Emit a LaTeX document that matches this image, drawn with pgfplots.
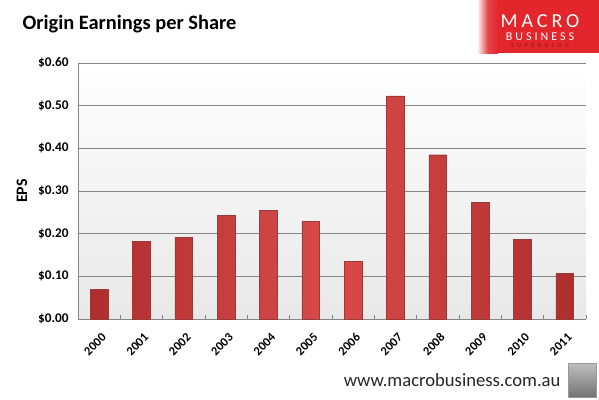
\documentclass[border=0pt]{standalone}
\usepackage{pgfplots}
\pgfplotsset{compat=1.18}
\usepackage{fontspec}
\setmainfont{Carlito}
\definecolor{barmid}{HTML}{DA4A4A}
\definecolor{baredge}{HTML}{AE2E2E}
\definecolor{barline}{HTML}{9A3A3A}
\definecolor{gridc}{HTML}{868686}
\definecolor{logored}{HTML}{E3262C}
\begin{document}
\begin{tikzpicture}[x=1bp,y=1bp]
\useasboundingbox (-78,-80) rectangle (521,319);
\begin{axis}[
  at={(0,0)}, anchor=south west,
  scale only axis, width=508bp, height=256bp,
  xmin=-0.5, xmax=11.5, ymin=0, ymax=0.6,
  axis x line*=bottom, axis y line*=left,
  axis line style={gridc, line width=0.8pt},
  xtick={0,...,11},
  xticklabels={2000,2001,2002,2003,2004,2005,2006,2007,2008,2009,2010,2011},
  minor xtick={-0.5,0.5,...,11.5},
  major tick length=0pt, minor tick length=4bp, tick align=inside,
  minor tick style={gridc, line width=0.6pt},
  ytick={0,0.1,...,0.61},
  yticklabels={\$0.00,\$0.10,\$0.20,\$0.30,\$0.40,\$0.50,\$0.60},
  ymajorgrids, major grid style={gridc, line width=0.7pt},
  yticklabel style={font=\bfseries\fontsize{13.3}{14}\selectfont, xshift=-6bp},
  xticklabel style={font=\bfseries\fontsize{12.5}{13}\selectfont, rotate=45, anchor=east, inner sep=1pt, xshift=-7bp, yshift=-15bp},
  ylabel={EPS}, ylabel style={font=\bfseries\fontsize{16}{18}\selectfont, at={(-56bp,0.5)}, anchor=center, rotate=0},
  axis background/.style={top color=white, bottom color=black!9},
  clip=false,
]
\addplot[ybar, bar width=17.7bp, draw=barline, line width=0.4pt,
  left color=baredge, right color=baredge, middle color=barmid]
  coordinates {(0,0.070) (1,0.182) (2,0.191) (3,0.243) (4,0.255) (5,0.229)
               (6,0.135) (7,0.523) (8,0.385) (9,0.273) (10,0.187) (11,0.107)};
\draw[gridc, line width=0.8pt] (rel axis cs:0,1) -- (rel axis cs:1,1);
\end{axis}
% title
\node[anchor=base west, font=\bfseries\fontsize{20.5}{22}\selectfont] at (-59,290) {Origin Earnings per Share};
% logo
\shade[left color=white, right color=logored, middle color=logored!85] (399,266) rectangle (420,319);
\fill[logored] (420,266) rectangle (521,319);
\node[anchor=base, text=white, font=\fontsize{20}{20}\selectfont\addfontfeature{LetterSpace=20}] at (462,292) {MACRO};
\node[anchor=base, text=white, font=\fontsize{12}{12}\selectfont\addfontfeature{LetterSpace=25}] at (462,279) {BUSINESS};
\node[anchor=base, text=logored!60!black, font=\fontsize{6}{6}\selectfont\addfontfeature{LetterSpace=60}] at (462,272) {SUPERBLOG};
% footer
\node[anchor=base east, font=\fontsize{18.7}{20}\selectfont, text=black!85] at (486,-67) {www.macrobusiness.com.au};
\shade[top color=black!25, bottom color=black!55, draw=black!40, line width=0.8pt] (490,-78) rectangle (518,-44);
\end{tikzpicture}
\end{document}
